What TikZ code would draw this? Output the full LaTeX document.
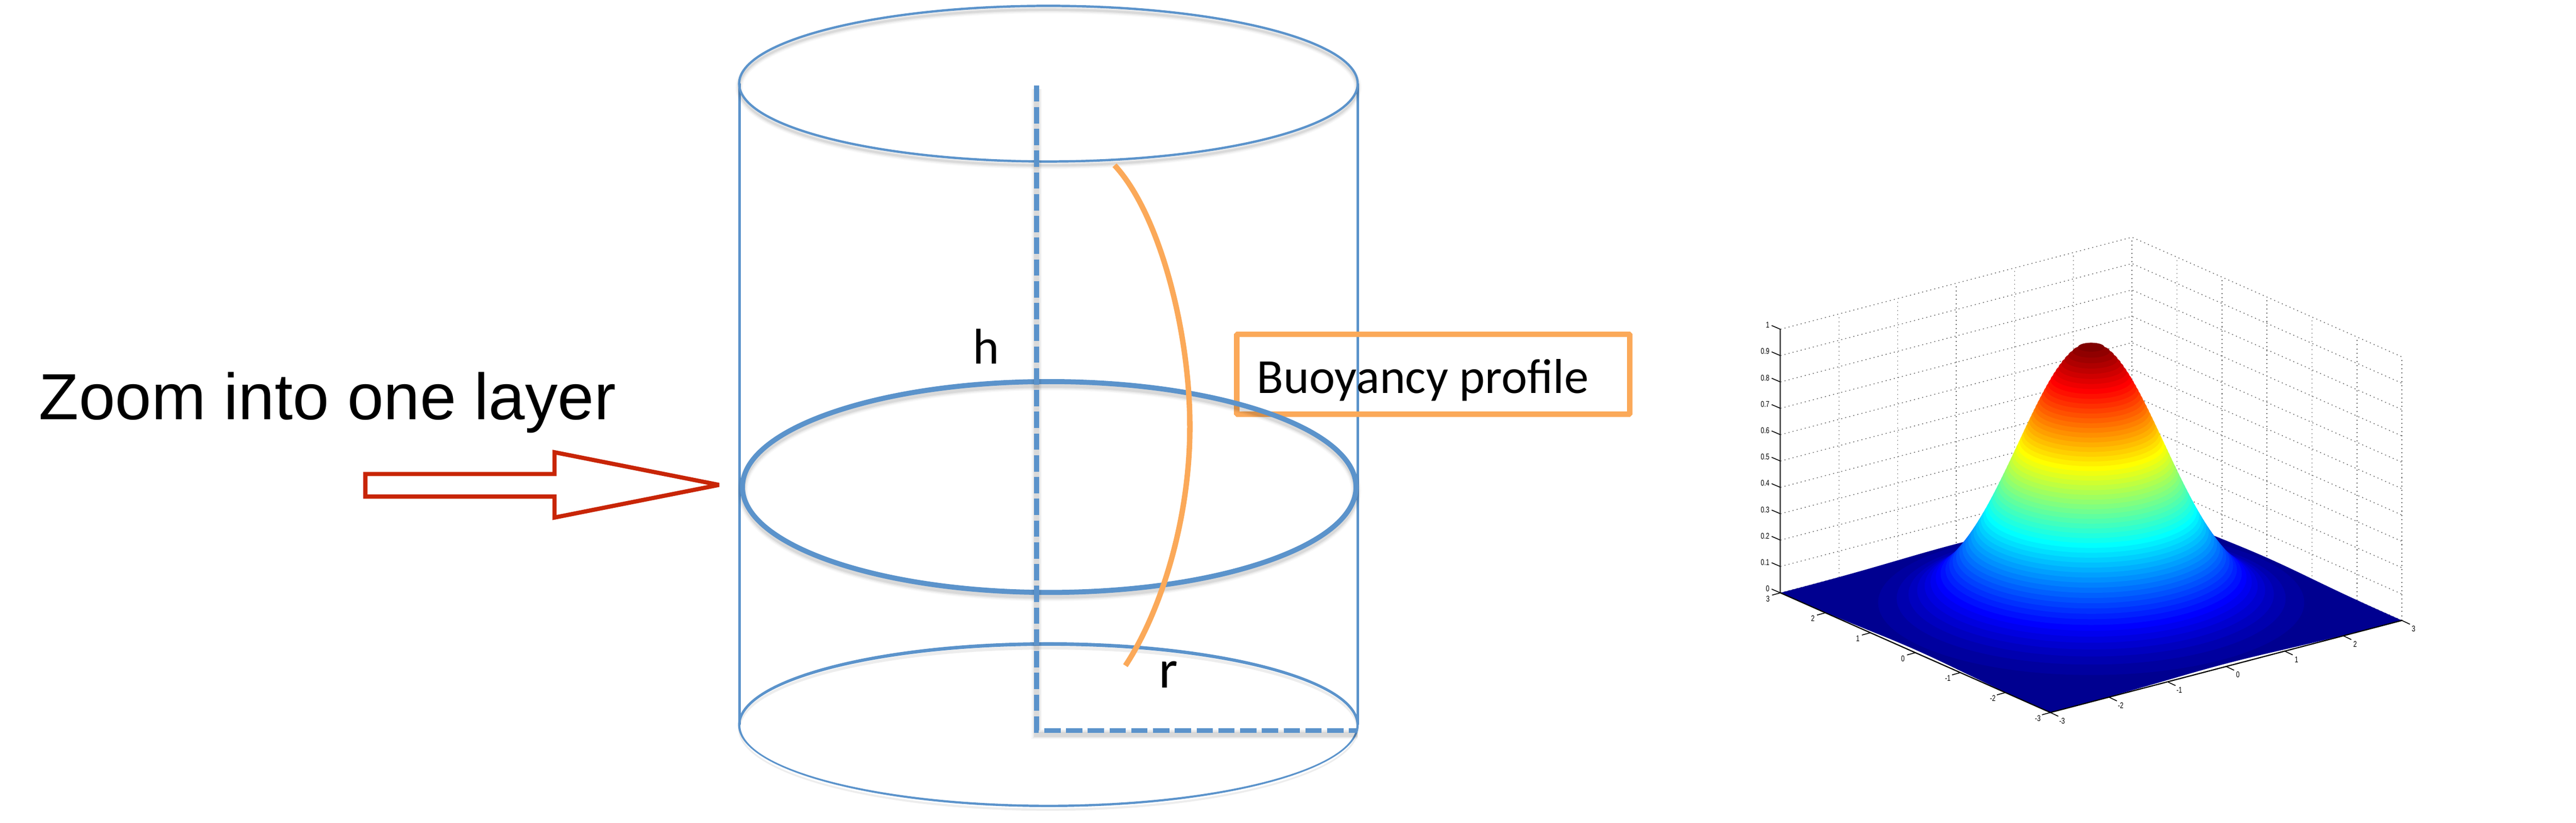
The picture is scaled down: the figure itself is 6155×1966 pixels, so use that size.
\documentclass[tikz,border=0pt]{standalone}
\usepackage{fontspec}
\setmainfont{Liberation Sans}
\newfontfamily\calib{Carlito}
\newfontfamily\tickfont[FakeStretch=0.75]{Liberation Sans}
\definecolor{cylblue}{HTML}{5B93CB}
\definecolor{profor}{HTML}{FBA959}
\definecolor{arrred}{HTML}{C82506}
\definecolor{jetbase}{rgb}{0,0,0.5625}
\tikzset{
  declare function={
    gz(\a,\b)=exp(-(\a*\a+\b*\b)/2);
    bx(\a,\b)=4996.5+140*\a-107.5*\b;
    by(\a,\b,\c)=1450-36.67*\a-47.67*\b-630*\c;
  },
  softshadow/.style={
    preaction={draw=black,opacity=.03,line width=#1+12pt,transform canvas={yshift=-9pt}},
    preaction={draw=black,opacity=.05,line width=#1+6pt,transform canvas={yshift=-9pt}},
    preaction={draw=black,opacity=.07,line width=#1,transform canvas={yshift=-9pt}},
  },
  thinline/.style={draw=cylblue,line width=5.5pt},
  midring/.style={draw=cylblue,line width=12pt},
  axisdash/.style={draw=cylblue,line width=12pt,dash pattern=on 39pt off 13pt},
  griddot/.style={draw=black!60,line width=1.8pt,dash pattern=on 2.5pt off 7.5pt},
  ticksty/.style={draw=black,line width=2pt},
  ticklab/.style={inner sep=0pt,font=\tickfont\fontsize{20}{20}\selectfont},
  txt/.style={inner sep=0pt,anchor=base west},
}
\begin{document}
\begin{tikzpicture}[x=1pt,y=-1pt]
\useasboundingbox (0,0) rectangle (6155,1966);
\fill[white] (0,0) rectangle (6155,1966);

% ---- surface plot: walls
\foreach \k in {0,...,10}{
  \draw[griddot] ({bx(-3,3)},{by(-3,3,\k/10)}) -- ({bx(3,3)},{by(3,3,\k/10)}) -- ({bx(3,-3)},{by(3,-3,\k/10)});
}
\foreach \t in {-2,...,3}{
  \draw[griddot] ({bx(\t,3)},{by(\t,3,0)}) -- ({bx(\t,3)},{by(\t,3,1)});
}
\foreach \t in {2,1,0,-1,-2,-3}{
  \draw[griddot] ({bx(3,\t)},{by(3,\t,0)}) -- ({bx(3,\t)},{by(3,\t,1)});
}
% ---- surface plot: base sheet
\fill[jetbase]
  plot[domain=-3:3,samples=41] ({bx(\x,-3)},{by(\x,-3,gz(\x,-3))})
  -- plot[domain=-3:3,samples=41] ({bx(3,\x)},{by(3,\x,gz(3,\x))})
  -- plot[domain=3:-3,samples=41] ({bx(\x,3)},{by(\x,3,gz(\x,3))})
  -- plot[domain=3:-3,samples=41] ({bx(-3,\x)},{by(-3,\x,gz(-3,\x))})
  -- cycle;
% ---- surface plot: 64 jet levels
\foreach \i in {2,...,64}{
  \pgfmathsetmacro\zt{(\i-1)/64}
  \pgfmathsetmacro\rr{sqrt(-2*ln(\zt))}
  \pgfmathsetmacro\jv{\i/64}
  \pgfmathsetmacro\jr{max(0,min(1,1.5-abs(4*\jv-3)))}
  \pgfmathsetmacro\jg{max(0,min(1,1.5-abs(4*\jv-2)))}
  \pgfmathsetmacro\jb{max(0,min(1,1.5-abs(4*\jv-1)))}
  \pgfmathsetmacro\rxx{176.5*\rr}
  \pgfmathsetmacro\ryy{60.1*\rr}
  \pgfmathsetmacro\cyy{1450-630*\zt}
  \definecolor{jetc}{rgb}{\jr,\jg,\jb}
  \fill[jetc] (4996.5,\cyy) ellipse [x radius=\rxx pt,y radius=\ryy pt];
}
% ---- surface plot: axes
\draw[draw=black!65,line width=3.5pt] ({bx(-3,3)},{by(-3,3,0)}) -- ({bx(-3,3)},{by(-3,3,1)});
\draw[draw=black,line width=2.8pt] ({bx(-3,3)},{by(-3,3,0)}) -- ({bx(-3,-3)},{by(-3,-3,0)}) -- ({bx(3,-3)},{by(3,-3,0)});
\foreach \k/\t in {0/0,1/0.1,2/0.2,3/0.3,4/0.4,5/0.5,6/0.6,7/0.7,8/0.8,9/0.9,10/1}{
  \draw[ticksty] ({bx(-3,3)},{by(-3,3,\k/10)}) -- ++(-21,-9);
  \node[ticklab,anchor=east] (zl\k) at ({bx(-3,3)-26},{by(-3,3,\k/10)-10}) {\t};
}
\foreach \t in {-3,...,3}{
  \draw[ticksty] ({bx(-3,\t)},{by(-3,\t,0)}) -- ++(-20,5.5);
  \node[ticklab] (bl\t) at ({bx(-3,\t)-30},{by(-3,\t,0)+14}) {\t};
  \draw[ticksty] ({bx(\t,-3)},{by(\t,-3,0)}) -- ++(19,9);
  \node[ticklab] (al\t) at ({bx(\t,-3)+28},{by(\t,-3,0)+20}) {\t};
}

% ---- cylinder
\draw[thinline] (1767,200) -- (1767,1732);
\draw[thinline] (3244,200) -- (3244,1732);
% ---- profile box
\draw[draw=profor,line width=13pt,rounded corners=2pt] (2955,799) rectangle (3894,990);
\node[txt,font=\calib\fontsize{117}{130}\selectfont] (prof) at (3003,940) {Buoyancy profile};
% ---- rings
\draw[thinline,softshadow=5.5pt] (2505,200) ellipse [x radius=739pt,y radius=186pt];
\draw[midring,softshadow=12pt] (2507,1164) ellipse [x radius=733pt,y radius=252pt];
\fill[cylblue,even odd rule,
  preaction={fill=black,opacity=.07,even odd rule,transform canvas={yshift=-9pt}}]
  (2505,1732) ellipse [x radius=741.5pt,y radius=197pt]
  (2505,1733.5) ellipse [x radius=736pt,y radius=190pt];
% ---- dashed axis and radius
\draw[axisdash,softshadow=12pt] (2477,204) -- (2477,1746) -- (3244,1746);
% ---- profile curve
\draw[draw=profor,line width=13pt,line cap=butt]
  (2663,395) .. controls (2770,510) and (2843,790) .. (2843,1020)
  .. controls (2843,1240) and (2775,1460) .. (2689,1591);
% ---- arrow
\draw[draw=arrred,line width=10pt,miter limit=3]
  (873,1133) -- (1325,1133) -- (1325,1081) -- (1718,1159) -- (1325,1237) -- (1325,1187) -- (873,1187) -- cycle;
% ---- labels
\node[txt,font=\fontsize{156}{170}\selectfont] (zoomlab) at (93,1003) {Zoom into one layer};
\node[txt,font=\calib\fontsize{120}{130}\selectfont] (hlab) at (2325,870) {h};
\node[txt,font=\calib\fontsize{130}{140}\selectfont] (rlab) at (2769,1644) {r};
\end{tikzpicture}
\end{document}
